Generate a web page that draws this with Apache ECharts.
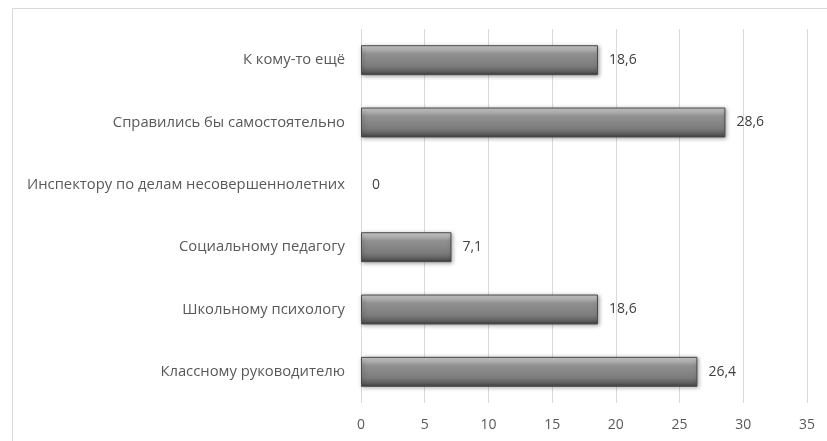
<!DOCTYPE html>
<html>
<head>
<meta charset="utf-8">
<script src="https://cdn.jsdelivr.net/npm/echarts@6/dist/echarts.min.js"></script>
<style>
  html, body { margin: 0; padding: 0; background: #fff; }
  #chart { width: 827px; height: 441px; }
</style>
</head>
<body>
<div id="chart"></div>
<script>
// Categories listed bottom to top (category axis starts at the bottom)
const categories = [
  'Классному руководителю',
  'Школьному психологу',
  'Социальному педагогу',
  'Инспектору по делам несовершеннолетних',
  'Справились бы самостоятельно',
  'К кому-то ещё'
];
const values = [26.4, 18.6, 7.1, 0, 28.6, 18.6];
const xTicks = [0, 5, 10, 15, 20, 25, 30, 35];

const labelFont = '"Open Sans", "Noto Sans", sans-serif';

const barFill = new echarts.graphic.LinearGradient(0, 0, 0, 1, [
  { offset: 0.00, color: '#d0d0d0' },
  { offset: 0.14, color: '#b4b4b4' },
  { offset: 0.28, color: '#919191' },
  { offset: 0.70, color: '#7c7c7c' },
  { offset: 0.88, color: '#5f5f5f' },
  { offset: 1.00, color: '#3c3c3c' }
]);

// Empty bars get no outline or shadow so nothing shows at zero
const barData = values.map(v => v === 0
  ? { value: v, itemStyle: { borderWidth: 0, shadowBlur: 0, shadowOffsetX: 0, shadowOffsetY: 0 } }
  : { value: v });

const chart = echarts.init(document.getElementById('chart'), null, { renderer: 'canvas' });
chart.setOption({
  backgroundColor: '#ffffff',
  animation: false,
  graphic: [{
    type: 'rect',
    silent: true,
    z: -10,
    shape: { x: 12.5, y: 8.5, width: 830, height: 450 },
    style: { fill: 'none', stroke: '#d9d9d9', lineWidth: 1 }
  }],
  grid: { left: 361, right: 20, top: 29, bottom: 38, containLabel: false },
  xAxis: {
    type: 'value',
    min: xTicks[0],
    max: xTicks[xTicks.length - 1],
    interval: 5,
    axisLine: { show: false },
    axisTick: { show: false },
    splitLine: { show: true, lineStyle: { color: '#d9d9d9', width: 1 } },
    axisLabel: {
      color: '#595959',
      fontSize: 14,
      fontFamily: labelFont,
      margin: 15,
      formatter: v => String(v)
    }
  },
  yAxis: {
    type: 'category',
    data: categories,
    axisLine: { show: false },
    axisTick: { show: false },
    splitLine: { show: false },
    axisLabel: {
      color: '#595959',
      fontSize: 14.8,
      fontFamily: labelFont,
      margin: 16
    }
  },
  series: [{
    type: 'bar',
    data: barData,
    barWidth: '48%',
    itemStyle: {
      color: barFill,
      borderColor: '#4a4a4a',
      borderWidth: 1,
      shadowColor: 'rgba(0,0,0,0.35)',
      shadowBlur: 4,
      shadowOffsetX: 1,
      shadowOffsetY: 1
    },
    label: {
      show: true,
      position: 'right',
      distance: 11,
      color: '#404040',
      fontSize: 14,
      fontFamily: labelFont,
      formatter: p => String(p.value).replace('.', ',')
    }
  }]
});
</script>
</body>
</html>
